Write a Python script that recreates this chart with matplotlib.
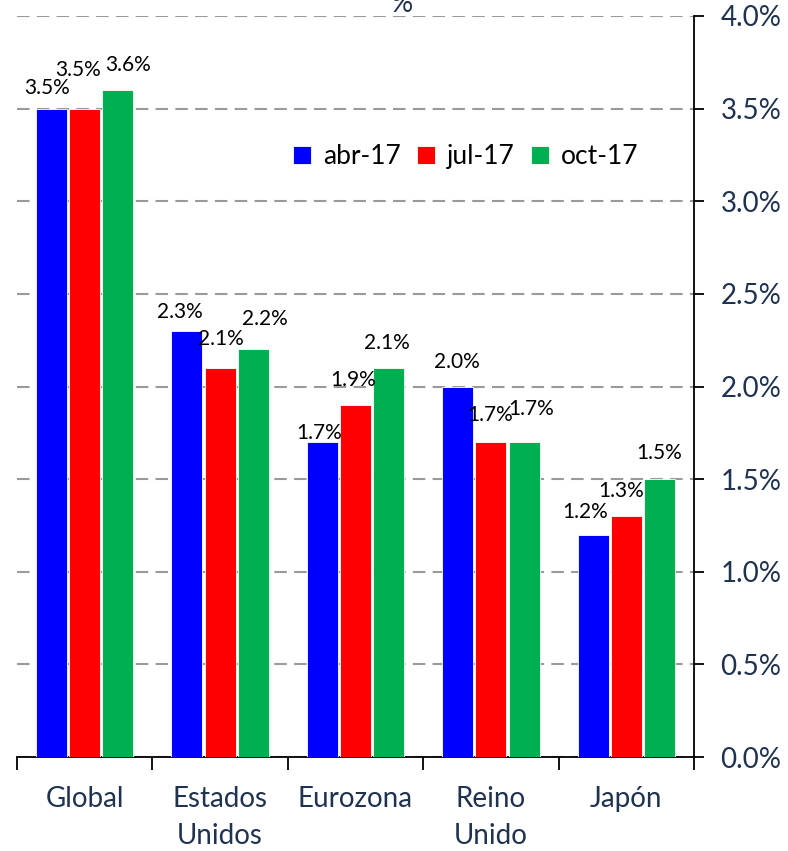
import numpy as np
import matplotlib.pyplot as plt

plt.rcParams['font.family'] = ['Lato', 'DejaVu Sans']

regions = ['Global', 'Estados\nUnidos', 'Eurozona', 'Reino\nUnido', 'Japón']
series = ['abr-17', 'jul-17', 'oct-17']
abr17 = [3.5, 2.3, 1.7, 2.0, 1.2]
jul17 = [3.5, 2.1, 1.9, 1.7, 1.3]
oct17 = [3.6, 2.2, 2.1, 1.7, 1.5]
colors = ['#0000FF', '#FF0000', '#00B050']

# label nudges (pixels) to mimic the staggered excel labels
nudges = [
    [(-4, 21), (-7, 39), (10, 25)],
    [(-7, 19), (1, 29), (12, 30)],
    [(-3, 9), (-2, 25), (-2, 25)],
    [(-1, 25), (-1, 27), (7, 33)],
    [(-8, 23), (-5, 25), (0, 26)],
]

navy = '#1F3350'
fig = plt.figure(figsize=(7.88, 8.51), dpi=100)
ax = fig.add_axes([17/788, 1-757/851, (694-17)/788, (757-16)/851])

x = np.arange(len(regions))
w = 0.228
step = 0.245
for j, (name, vals) in enumerate(zip(series, [abr17, jul17, oct17])):
    pos = x + (j-1)*step
    ax.bar(pos, vals, w, color=colors[j], edgecolor='white', linewidth=0.6,
           label=name, zorder=3)
    for i, v in enumerate(vals):
        dx, dy = nudges[i][j]
        ax.annotate(f'{v:.1f}%', (pos[i], v), xytext=(dx, dy),
                    textcoords='offset pixels', ha='center', va='center',
                    fontsize=15, color='black', zorder=4)

ax.set_xlim(-0.5, len(regions)-0.5)
ax.set_ylim(0, 4.0)
yt = np.arange(0, 4.01, 0.5)
ax.set_yticks(yt)
ax.set_yticklabels([f'{t:.1f}%' for t in yt])
ax.yaxis.tick_right()
ax.tick_params(axis='y', direction='out', length=7, width=1.3, pad=12,
               labelsize=20, labelcolor=navy)
ax.grid(axis='y', color='#9A9A9A', linestyle=(0, (6, 3.5)), linewidth=1.5, zorder=1)

ax.set_xticks(x)
ax.set_xticklabels(regions, linespacing=1.5)
ax.set_xticks(np.arange(-0.5, len(regions), 1), minor=True)
ax.tick_params(axis='x', which='major', length=0, pad=21, labelsize=20,
               labelcolor=navy)
ax.tick_params(axis='x', which='minor', direction='out', length=9, width=1.3)

for s in ['left', 'top']:
    ax.spines[s].set_visible(False)
ax.spines['right'].set_linewidth(1.3)
ax.spines['bottom'].set_linewidth(1.3)

ax.legend(loc='center', bbox_to_anchor=(0.663, 0.81), ncol=3, frameon=False,
          fontsize=19, handlelength=0.7, handleheight=0.7, handletextpad=0.45,
          columnspacing=0.6)

fig.text(0.51, 0.995, '%', ha='center', va='center', fontsize=20, color=navy)

fig.savefig('out.png', dpi=100)
